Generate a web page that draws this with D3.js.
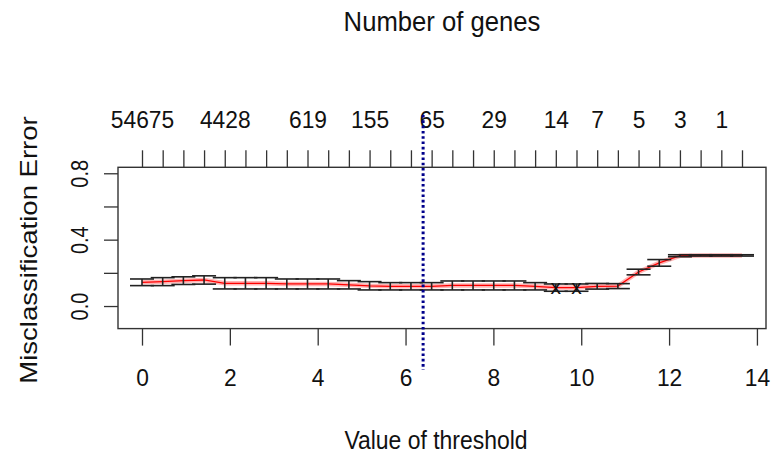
<!DOCTYPE html>
<html><head><meta charset="utf-8">
<script src="https://cdn.jsdelivr.net/npm/d3@7"></script>
<style>body{margin:0;background:#fff}svg{display:block;font-family:"Liberation Sans",Arial,sans-serif}</style>
</head><body>
<svg id="chart" width="772" height="457"></svg>
<script>
// ---- data ----
const thresholds = [0, 0.471, 0.942, 1.413, 1.884, 2.355, 2.826, 3.297, 3.768, 4.239,
  4.710, 5.181, 5.652, 6.123, 6.594, 7.065, 7.537, 8.008, 8.479, 8.950,
  9.421, 9.892, 10.363, 10.834, 11.305, 11.776, 12.247, 12.718, 13.189, 13.660];
const errors = [0.143, 0.147, 0.153, 0.157, 0.137, 0.137, 0.137, 0.133, 0.133, 0.133,
  0.128, 0.122, 0.119, 0.119, 0.119, 0.124, 0.124, 0.124, 0.124, 0.119,
  0.111, 0.111, 0.119, 0.120, 0.205, 0.260, 0.303, 0.305, 0.305, 0.305];
const stdErrors = [0.020, 0.024, 0.023, 0.025, 0.034, 0.034, 0.034, 0.030, 0.030, 0.030,
  0.025, 0.025, 0.022, 0.022, 0.022, 0.027, 0.027, 0.027, 0.027, 0.022,
  0.022, 0.022, 0.017, 0.015, 0.017, 0.020, 0.006, 0.004, 0.004, 0.004];
const geneLabels = ["54675", "", "", "", "4428", "", "", "", "619", "",
  "", "155", "", "", "65", "", "", "29", "", "",
  "14", "", "7", "", "5", "", "3", "", "1", ""];
const xTicks = [0, 2, 4, 6, 8, 10, 12, 14];
const yTicks = [0, 0.2, 0.4, 0.6, 0.8];
const yTickLabels = ["0.0", "", "0.4", "", "0.8"];
const chosenThreshold = 6.40;
const xDomain = [-0.5464, 14.2064];
const yDomain = [-0.136, 0.836];

// ---- layout ----
const svg = d3.select("#chart");
const L = 118, R = 766, T = 167.3, B = 328.6;
const x = d3.scaleLinear().domain(xDomain).range([L, R]);
const y = d3.scaleLinear().domain(yDomain).range([B, T]);
const ink = "#222";
const barW = 0.02 * (d3.max(thresholds) - d3.min(thresholds));

// box
svg.append("rect").attr("x", L).attr("y", T).attr("width", R - L).attr("height", B - T)
  .attr("fill", "none").attr("stroke", "#333").attr("stroke-width", 1.4);

function styleAxis(g) {
  g.select(".domain").remove();
  g.selectAll(".tick line").attr("stroke", "#333").attr("stroke-width", 1.3);
  g.selectAll(".tick text").attr("fill", "#111").attr("font-family", "Liberation Sans, Arial, sans-serif");
}

// top axis (number of genes)
const gTop = svg.append("g").attr("transform", `translate(0,${T})`)
  .call(d3.axisTop(x).tickValues(thresholds).tickFormat((d, i) => geneLabels[i]).tickSize(17).tickSizeOuter(0));
styleAxis(gTop);
gTop.selectAll(".tick text").attr("font-size", 23.5).attr("y", 127.5 - T).attr("dy", null)
  .attr("transform", "scale(0.97,1)");

// bottom axis
const gBot = svg.append("g").attr("transform", `translate(0,${B})`)
  .call(d3.axisBottom(x).tickValues(xTicks).tickFormat(d3.format("d")).tickSize(17).tickSizeOuter(0));
styleAxis(gBot);
gBot.selectAll(".tick text").attr("font-size", 23.5).attr("y", 386 - B).attr("dy", null)
  .attr("transform", "scale(0.97,1)");

// left axis
const gLeft = svg.append("g").attr("transform", `translate(${L},0)`)
  .call(d3.axisLeft(y).tickValues(yTicks).tickFormat((d, i) => yTickLabels[i]).tickSize(14).tickSizeOuter(0));
styleAxis(gLeft);
gLeft.selectAll(".tick text").attr("font-size", 23.5).attr("x", null).attr("dy", null)
  .attr("text-anchor", "middle")
  .attr("transform", `translate(${87.5 - L},0) rotate(-90) scale(0.85,1)`);

// titles
svg.append("text").attr("text-anchor", "middle")
  .attr("transform", "translate(442,31) scale(0.9,1)")
  .attr("font-size", 28.5).attr("fill", "#111").text("Number of genes");
svg.append("text").attr("text-anchor", "middle")
  .attr("transform", "translate(436,449) scale(0.9,1)")
  .attr("font-size", 25.5).attr("fill", "#111").text("Value of threshold");
svg.append("text").attr("text-anchor", "middle")
  .attr("transform", "translate(37,250) rotate(-90) scale(1,0.87)")
  .attr("font-size", 27.5).attr("fill", "#111").text("Misclassification Error");

// error curve
const pts = thresholds.map((t, i) => [t, errors[i]]);
const line = d3.line().x(d => x(d[0])).y(d => y(d[1]));
svg.append("path").attr("d", line(pts)).attr("fill", "none")
  .attr("stroke", "#ffb4b4").attr("stroke-width", 4.5);
svg.append("path").attr("d", line(pts)).attr("fill", "none")
  .attr("stroke", "#ff0000").attr("stroke-width", 1.3);

// error bars
const eb = svg.append("g").attr("stroke", ink).attr("stroke-width", 1.6);
thresholds.forEach((t, i) => {
  const up = errors[i] + stdErrors[i], lo = errors[i] - stdErrors[i];
  eb.append("line").attr("x1", x(t)).attr("x2", x(t)).attr("y1", y(up)).attr("y2", y(lo));
  eb.append("line").attr("x1", x(t - barW)).attr("x2", x(t + barW)).attr("y1", y(up)).attr("y2", y(up));
  eb.append("line").attr("x1", x(t - barW)).attr("x2", x(t + barW)).attr("y1", y(lo)).attr("y2", y(lo));
});

// minimum points
const minErr = d3.min(errors);
svg.append("g").selectAll("text").data(pts.filter(d => d[1] === minErr)).join("text")
  .attr("x", d => x(d[0])).attr("y", d => y(d[1]) + 6).attr("text-anchor", "middle")
  .attr("font-size", 21).attr("fill", "#111").text("x");

// chosen threshold
svg.append("line").attr("x1", x(chosenThreshold)).attr("x2", x(chosenThreshold))
  .attr("y1", 115).attr("y2", 370)
  .attr("stroke", "#00008b").attr("stroke-width", 3).attr("stroke-dasharray", "2.6,2.7");
</script>
</body></html>
